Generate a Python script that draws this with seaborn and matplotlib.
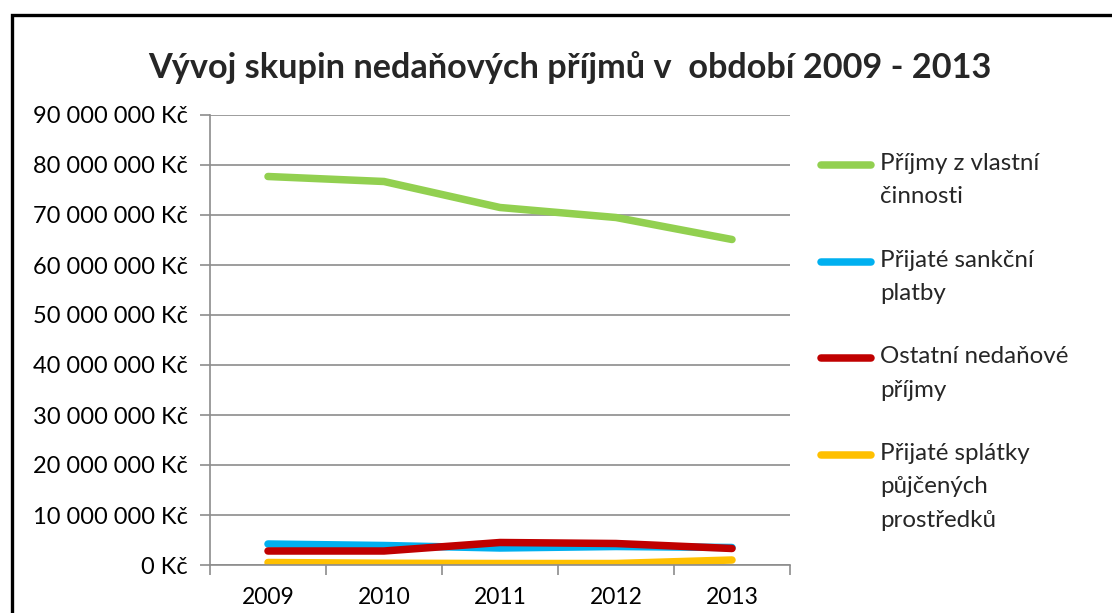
import matplotlib
matplotlib.use("Agg")
import matplotlib.pyplot as plt
import matplotlib.ticker as mticker
from matplotlib.lines import Line2D
from matplotlib.patches import Rectangle
import pandas as pd
import seaborn as sns

# data (values in Kč)
years = ["2009", "2010", "2011", "2012", "2013"]
series_names = [
    "Příjmy z vlastní\nčinnosti",
    "Přijaté sankční\nplatby",
    "Ostatní nedaňové\npříjmy",
    "Přijaté splátky\npůjčených\nprostředků",
]
vlastni_cinnost = [77_700_000, 76_700_000, 71_500_000, 69_500_000, 65_100_000]
sankcni_platby = [4_200_000, 3_900_000, 3_400_000, 3_700_000, 3_500_000]
ostatni = [2_800_000, 2_800_000, 4_500_000, 4_300_000, 3_300_000]
splatky = [500_000, 350_000, 300_000, 300_000, 1_000_000]
colors = ["#92D050", "#00B0F0", "#C00000", "#FFC000"]
y_ticks = list(range(0, 90_000_001, 10_000_000))

title = "Vývoj skupin nedaňových příjmů v  období 2009 - 2013"


def build_frame() -> pd.DataFrame:
    """long-form table for seaborn"""
    rows = []
    for name, vals in zip(series_names,
                          [vlastni_cinnost, sankcni_platby, ostatni, splatky]):
        for i, v in enumerate(vals):
            rows.append({"idx": i, "Rok": years[i], "Řada": name, "Hodnota": v})
    return pd.DataFrame(rows)


def kc_format(v, pos):
    return f"{int(round(v)):,}".replace(",", " ") + " Kč"


def draw_chart(df: pd.DataFrame):
    sns.set_theme(style="white")
    plt.rcParams["font.family"] = ["Lato", "DejaVu Sans"]
    plt.rcParams["lines.solid_capstyle"] = "round"

    W, H = 1112, 613
    fig = plt.figure(figsize=(W / 100, H / 100), dpi=100)
    fig.patch.set_facecolor("white")
    ax = fig.add_axes([210 / W, 1 - 565 / H, 580 / W, 450 / H])

    sns.lineplot(data=df, x="idx", y="Hodnota", hue="Řada",
                 palette=colors, linewidth=5.4, legend=False, ax=ax,
                 hue_order=series_names)
    for ln in ax.lines:
        ln.set_solid_capstyle("round")

    ax.set_xlim(-0.5, len(years) - 0.5)
    ax.set_ylim(0, 90_000_000)
    ax.set_yticks(y_ticks)
    ax.yaxis.set_major_formatter(mticker.FuncFormatter(kc_format))
    ax.grid(axis="y", color="#8c8c8c", linewidth=1.2)
    ax.set_axisbelow(True)

    ax.set_xticks(range(len(years)))
    ax.set_xticklabels(years)
    ax.set_xticks([i - 0.5 for i in range(len(years) + 1)], minor=True)
    ax.tick_params(axis="x", which="major", length=0, pad=16,
                   labelsize=16.5, labelcolor="black")
    ax.tick_params(axis="x", which="minor", length=7, width=1.2,
                   color="#8c8c8c", direction="out", bottom=True)
    ax.tick_params(axis="y", length=7.5, width=1.2, color="#8c8c8c",
                   direction="out", left=True, pad=8.5,
                   labelsize=17, labelcolor="black")
    ax.set_xlabel("")
    ax.set_ylabel("")
    for side in ["top", "right"]:
        ax.spines[side].set_visible(False)
    for side in ["left", "bottom"]:
        ax.spines[side].set_color("#8c8c8c")
        ax.spines[side].set_linewidth(1.2)

    fig.text(570 / W, 1 - 68 / H, title, ha="center", va="center",
             fontsize=24.7, fontweight="bold")

    # legend, Excel-style: handle aligned with the first text line
    for i, (name, c) in enumerate(zip(series_names, colors)):
        yc = 1 - (165 + i * 96.7) / H
        fig.add_artist(Line2D([821 / W, 871 / W], [yc, yc], color=c,
                              linewidth=5.4, solid_capstyle="round",
                              transform=fig.transFigure))
        fig.text(880 / W, yc + 12 / H, name, ha="left", va="top",
                 fontsize=17.4, linespacing=1.72)

    # chart frame, cropped at right and bottom
    fig.add_artist(Rectangle((11.5 / W, -0.1), 1.2, 1 - 15.5 / H + 0.1,
                             fill=False, edgecolor="black", linewidth=2.4,
                             transform=fig.transFigure))

    fig.savefig("out.png", dpi=100)


if __name__ == "__main__":
    draw_chart(build_frame())
